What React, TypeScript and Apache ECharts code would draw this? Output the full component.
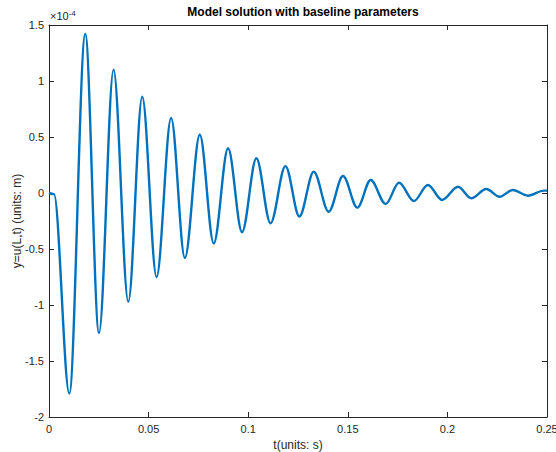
import React, { useEffect, useRef } from "react";
import * as echarts from "echarts";

// Time (s) of the start, the turning points and the end of the trace
const times = [
  0, 0.0025, 0.0102, 0.0182, 0.0251, 0.0324, 0.0398, 0.0468, 0.054, 0.0613,
  0.0682, 0.0757, 0.0827, 0.0899, 0.0969, 0.1041, 0.1112, 0.1187, 0.1257,
  0.1329, 0.1404, 0.1476, 0.1548, 0.1615, 0.169, 0.1757, 0.1832, 0.1902,
  0.1974, 0.2053, 0.212, 0.2195, 0.2262, 0.2328, 0.2404, 0.2485, 0.25,
];
// Displacement y = u(L,t) in units of 1e-4 m
const displacement = [
  0, -0.01, -1.79, 1.42, -1.25, 1.1, -0.97, 0.86, -0.75, 0.67, -0.58, 0.52,
  -0.45, 0.4, -0.35, 0.31, -0.27, 0.24, -0.21, 0.19, -0.167, 0.152, -0.131,
  0.116, -0.098, 0.092, -0.071, 0.071, -0.062, 0.056, -0.047, 0.036, -0.033,
  0.027, -0.024, 0.021, 0.021,
];
const xTicks = { min: 0, max: 0.25, step: 0.05 };
const yTicks = { min: -2, max: 1.5, step: 0.5 };

const FONT = "'Liberation Sans', Arial, Helvetica, sans-serif";
const AX = "#262626";

export default function App() {
  const ref = useRef<HTMLDivElement>(null);
  useEffect(() => {
    if (!ref.current) return;
    const chart = echarts.init(ref.current, undefined, { renderer: "svg" });
    const data = times.map((t, i) => [t, displacement[i]]);
    const axisCommon = {
      axisLine: { show: true, onZero: false, lineStyle: { color: AX, width: 1 } },
      axisTick: { show: true, inside: true, length: 5, lineStyle: { color: AX, width: 1 } },
      splitLine: { show: false },
    };
    chart.setOption({
      animation: false,
      backgroundColor: "#ffffff",
      textStyle: { fontFamily: FONT },
      title: {
        text: "Model solution with baseline parameters",
        left: 298,
        textAlign: "center",
        top: 1,
        textStyle: { fontFamily: FONT, fontSize: 12, fontWeight: "bold", color: "#000" },
      },
      grid: {
        left: 49,
        right: 9,
        top: 25,
        bottom: 35,
        containLabel: false,
        outerBoundsMode: "none",
      },
      xAxis: [
        {
          type: "value",
          position: "bottom",
          min: xTicks.min,
          max: xTicks.max,
          interval: xTicks.step,
          name: "t(units: s)",
          nameLocation: "middle",
          nameGap: 22,
          nameMoveOverlap: false,
          nameTextStyle: { fontFamily: FONT, fontSize: 12, color: AX },
          axisLabel: { fontFamily: FONT, fontSize: 11, color: AX, margin: 6 },
          ...axisCommon,
        },
        {
          type: "value",
          position: "top",
          min: xTicks.min,
          max: xTicks.max,
          interval: xTicks.step,
          axisLabel: { show: false },
          ...axisCommon,
        },
      ],
      yAxis: [
        {
          type: "value",
          position: "left",
          min: yTicks.min,
          max: yTicks.max,
          interval: yTicks.step,
          name: "y=u(L,t) (units: m)",
          nameLocation: "middle",
          nameGap: 26,
          nameMoveOverlap: false,
          nameTextStyle: { fontFamily: FONT, fontSize: 12, color: AX },
          axisLabel: { fontFamily: FONT, fontSize: 11, color: AX, margin: 5 },
          ...axisCommon,
        },
        {
          type: "value",
          position: "right",
          min: yTicks.min,
          max: yTicks.max,
          interval: yTicks.step,
          axisLabel: { show: false },
          ...axisCommon,
        },
      ],
      graphic: [
        {
          type: "text",
          left: 50,
          top: 9,
          style: {
            text: "{a|×10}{b|-4}",
            rich: {
              a: { fontFamily: FONT, fontSize: 11, fill: AX, verticalAlign: "bottom", height: 14 },
              b: { fontFamily: FONT, fontSize: 8, fill: AX, verticalAlign: "top", padding: [0, 0, 6, 0] },
            },
          },
        },
      ],
      series: [
        {
          type: "line",
          data,
          xAxisIndex: 0,
          yAxisIndex: 0,
          smooth: 0.34,
          smoothMonotone: "x",
          showSymbol: false,
          symbol: "none",
          lineStyle: { color: "#0072BD", width: 2.4 },
          clip: true,
        },
      ],
    });
    return () => chart.dispose();
  }, []);
  return (
    <div
      ref={ref}
      style={{ position: "absolute", left: 0, top: 0, width: 556, height: 452 }}
    />
  );
}
